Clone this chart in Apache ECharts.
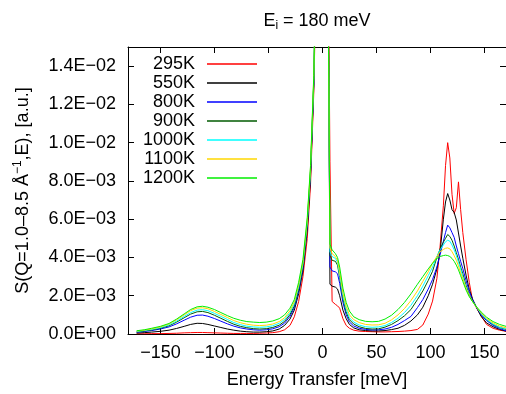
<!DOCTYPE html>
<html>
<head>
<meta charset="utf-8">
<script src="https://cdn.jsdelivr.net/npm/echarts@6/dist/echarts.min.js"></script>
<style>
html,body{margin:0;padding:0;background:#fff;}
#chart{width:506px;height:394px;}
</style>
</head>
<body>
<div id="chart"></div>
<script>
// Energy transfer (meV)
var energy = [-172,-165,-158,-150,-142,-135,-128,-122,-116,-111,
  -106,-100,-94,-88,-82,-76,-70,-64,-58,-52,
  -46,-40,-35,-30,-26,-22,-18,-14,-11,-8,
  -6,-4,-2,0,2,4,6,7,9,12,
  14,16,19,22,25,29,34,40,46,52,
  58,64,70,76,82,88,93,98,102,106,
  109,112,114,116,118,120,122,124,126,128,
  130,133,136,139,143,147,152,158,164,170];

// S(Q,E) values in units of 1E-03
var s295K = [0.01,0.01,0.02,0.02,0.03,0.04,0.06,0.07,0.08,0.08,
  0.07,0.06,0.05,0.04,0.03,0.03,0.03,0.03,0.04,0.05,
  0.07,0.12,0.22,0.45,0.90,1.70,3.00,5.00,7.80,12.6,
  18,25,33,38,34,27,16,9,1.7,1.55,
  1.47,1.35,0.80,0.45,0.30,0.20,0.15,0.13,0.12,0.11,
  0.11,0.12,0.13,0.15,0.18,0.24,0.47,1.04,1.72,2.90,
  4.60,6.70,8.80,10.0,9.2,7.3,6.3,6.6,7.95,6.5,
  5.3,3.9,2.7,1.75,1.33,0.95,0.50,0.30,0.20,0.14];
var s550K = [0.05,0.07,0.10,0.14,0.20,0.29,0.40,0.50,0.56,0.55,
  0.50,0.42,0.34,0.26,0.20,0.15,0.12,0.10,0.10,0.12,
  0.16,0.26,0.45,0.78,1.25,2.10,3.30,5.45,8.20,12.9,
  19,26,34,38,34,26,13,2.6,2.5,2.45,
  2.35,2.0,1.25,0.80,0.50,0.32,0.22,0.18,0.16,0.16,
  0.18,0.23,0.30,0.45,0.68,1.00,1.40,2.00,2.60,3.40,
  4.30,6.00,6.90,7.34,7.00,6.50,6.35,5.96,5.28,4.60,
  3.96,3.08,2.33,1.83,1.35,0.92,0.58,0.38,0.24,0.15];
var s800K = [0.09,0.13,0.18,0.26,0.37,0.53,0.72,0.88,0.98,0.99,
  0.93,0.81,0.67,0.53,0.41,0.32,0.26,0.22,0.20,0.22,
  0.27,0.38,0.57,0.92,1.38,2.25,3.45,5.65,8.40,13.1,
  19,26,34,38,34,26,13,3.5,3.3,3.25,
  3.15,2.65,1.65,1.00,0.63,0.42,0.30,0.24,0.21,0.22,
  0.26,0.35,0.50,0.70,0.92,1.38,1.80,2.35,2.85,3.50,
  4.15,4.85,5.30,5.69,5.55,5.30,5.05,4.60,4.20,3.80,
  3.42,2.80,2.22,1.80,1.36,1.00,0.70,0.45,0.28,0.17];
var s900K = [0.11,0.16,0.21,0.30,0.43,0.62,0.85,1.04,1.16,1.18,
  1.12,0.98,0.82,0.66,0.51,0.40,0.33,0.28,0.26,0.28,
  0.34,0.46,0.66,1.02,1.48,2.35,3.55,5.75,8.50,13.2,
  19,26,34,38,34,26,13,4.1,3.85,3.8,
  3.6,2.95,1.85,1.15,0.75,0.52,0.38,0.29,0.26,0.27,
  0.36,0.50,0.70,0.95,1.28,1.80,2.25,2.80,3.28,4.00,
  4.45,4.80,5.00,5.20,5.10,4.90,4.60,4.25,3.90,3.50,
  3.15,2.55,2.05,1.72,1.38,1.05,0.75,0.50,0.34,0.24];
var s1000K = [0.13,0.18,0.24,0.33,0.47,0.67,0.92,1.12,1.25,1.27,
  1.22,1.08,0.92,0.76,0.60,0.49,0.41,0.37,0.35,0.37,
  0.43,0.56,0.76,1.12,1.58,2.45,3.65,5.85,8.60,13.3,
  19,26,34,38,34,26,13,4.3,4.05,3.95,
  3.75,3.1,2.0,1.3,0.85,0.62,0.47,0.38,0.35,0.37,
  0.44,0.60,0.82,1.12,1.50,2.00,2.50,3.05,3.50,4.05,
  4.40,4.65,4.82,4.90,4.85,4.65,4.40,4.10,3.75,3.40,
  3.00,2.45,2.00,1.70,1.38,1.05,0.76,0.52,0.36,0.27];
var s1100K = [0.15,0.20,0.27,0.37,0.52,0.74,1.00,1.22,1.35,1.37,
  1.32,1.18,1.02,0.86,0.70,0.59,0.51,0.46,0.44,0.46,
  0.52,0.65,0.85,1.22,1.68,2.55,3.75,5.95,8.70,13.4,
  19,26,34,38,34,26,13,4.5,4.2,4.05,
  3.85,3.25,2.15,1.45,1.00,0.75,0.60,0.50,0.47,0.48,
  0.56,0.74,1.00,1.33,1.75,2.25,2.75,3.25,3.70,4.05,
  4.30,4.42,4.48,4.50,4.45,4.30,4.10,3.85,3.55,3.20,
  2.90,2.40,2.00,1.70,1.38,1.10,0.82,0.58,0.42,0.32];
var s1200K = [0.17,0.22,0.30,0.40,0.55,0.78,1.05,1.28,1.42,1.45,
  1.40,1.28,1.12,0.96,0.82,0.72,0.65,0.62,0.60,0.62,
  0.68,0.80,1.00,1.35,1.80,2.70,3.90,6.10,8.80,13.5,
  19,26,34,38,34,26,13,4.7,4.4,4.2,
  4.0,3.5,2.4,1.65,1.2,0.90,0.75,0.66,0.64,0.66,
  0.78,0.98,1.28,1.65,2.10,2.60,3.00,3.40,3.70,3.95,
  4.05,4.10,4.12,4.10,4.05,3.95,3.80,3.60,3.35,3.05,
  2.75,2.30,1.95,1.70,1.40,1.15,0.88,0.65,0.50,0.40];

var seriesNames = ['295K','550K','800K','900K','1000K','1100K','1200K'];
var seriesColors = ['#ff0000','#000000','#0000ff','#005a00','#00ffff','#ffd700','#00ee00'];
var seriesValues = [s295K,s550K,s800K,s900K,s1000K,s1100K,s1200K];

var xTicks = [-150,-100,-50,0,50,100,150];
var yTicks = [0,2,4,6,8,10,12,14];

var FONT = '"Liberation Sans", Arial, Helvetica, sans-serif';

function fmtY(v){
  if (v === 0) return '0.0E+00';
  var val = v * 1e-3;
  var exp = Math.floor(Math.log10(Math.abs(val)) + 1e-9);
  var man = val / Math.pow(10, exp);
  var es = (exp < 0 ? '\u2212' : '+') + (Math.abs(exp) < 10 ? '0' : '') + Math.abs(exp);
  return man.toFixed(1) + 'E' + es;
}
function fmtX(v){ return String(v).replace('-', '\u2212'); }

var chart = echarts.init(document.getElementById('chart'), null, {renderer:'canvas'});

var series = seriesNames.map(function(n, i){
  return {
    name: n, type: 'line', xAxisIndex: 0, yAxisIndex: 0,
    data: energy.map(function(e, k){ return [e, seriesValues[i][k]]; }),
    showSymbol: false, symbol: 'none',
    lineStyle: {color: seriesColors[i], width: 1},
    itemStyle: {color: seriesColors[i]},
    clip: true, silent: true
  };
});

chart.setOption({
  animation: false,
  backgroundColor: '#fff',
  textStyle: {fontFamily: FONT},
  grid: {left: 128, top: 47, width: 380, height: 288, containLabel: false},
  graphic: [{
    type: 'text', x: 317, y: 21,
    style: {
      text: '{n|E}{s|i}{n| = 180 meV}',
      align: 'center', verticalAlign: 'middle', fill: '#000',
      rich: {
        n: {fontSize: 18, fontFamily: FONT, lineHeight: 22, fill: '#000'},
        s: {fontSize: 12, fontFamily: FONT, lineHeight: 12, verticalAlign: 'bottom', fill: '#000'}
      }
    }
  }],
  legend: {
    orient: 'vertical', right: 249, top: 55, padding: 0,
    align: 'right', icon: 'rect', itemWidth: 50, itemHeight: 1.5,
    itemGap: 1.0,
    textStyle: {fontSize: 18, fontFamily: FONT, color: '#000', lineHeight: 17, padding: [0, 7, 0, 0]},
    data: seriesNames
  },
  xAxis: [{
    type: 'value', min: -180, max: 170, position: 'bottom',
    name: 'Energy Transfer [meV]', nameLocation: 'middle', nameGap: 37,
    nameTextStyle: {fontSize: 18, fontFamily: FONT, color: '#000'},
    axisLine: {show: true, onZero: false, lineStyle: {color: '#000', width: 1}},
    axisTick: {show: true, inside: true, length: 6, customValues: xTicks, lineStyle: {color: '#000'}},
    axisLabel: {show: true, customValues: xTicks, formatter: fmtX, fontSize: 18, fontFamily: FONT, color: '#000', margin: 10},
    splitLine: {show: false}
  }, {
    type: 'value', min: -180, max: 170, position: 'top',
    axisLine: {show: true, onZero: false, lineStyle: {color: '#000', width: 1}},
    axisTick: {show: true, inside: true, length: 6, customValues: xTicks, lineStyle: {color: '#000'}},
    axisLabel: {show: false},
    splitLine: {show: false}
  }],
  yAxis: [{
    type: 'value', min: 0, max: 15, position: 'left',
    name: '{a|S(Q=1.0\u20138.5 \u00c5}{b|\u22121}{a|,E), [a.u.]}',
    nameLocation: 'middle', nameGap: 94, nameRotate: 90,
    nameTextStyle: {
      fontSize: 18, fontFamily: FONT, color: '#000',
      rich: {
        a: {fontSize: 18, fontFamily: FONT, color: '#000', lineHeight: 22},
        b: {fontSize: 12, fontFamily: FONT, color: '#000', lineHeight: 12, verticalAlign: 'top'}
      }
    },
    axisLine: {show: true, onZero: false, lineStyle: {color: '#000', width: 1}},
    axisTick: {show: true, inside: true, length: 6, customValues: yTicks, lineStyle: {color: '#000'}},
    axisLabel: {show: true, customValues: yTicks, formatter: fmtY, fontSize: 18, fontFamily: FONT, color: '#000', margin: 12},
    splitLine: {show: false}
  }, {
    type: 'value', min: 0, max: 15, position: 'right',
    axisLine: {show: true, onZero: false, lineStyle: {color: '#000', width: 1}},
    axisTick: {show: true, inside: true, length: 6, customValues: yTicks, lineStyle: {color: '#000'}},
    axisLabel: {show: false},
    splitLine: {show: false}
  }],
  series: series
});
</script>
</body>
</html>
